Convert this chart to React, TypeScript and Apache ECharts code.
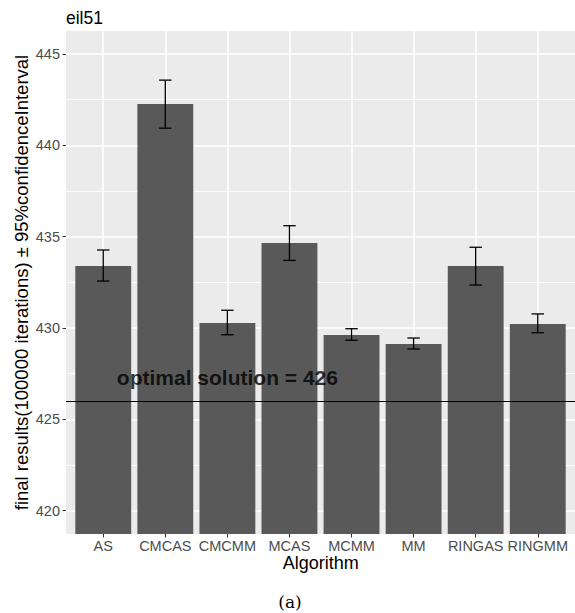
import React, { useEffect, useRef } from "react";
import * as echarts from "echarts";

// eil51 results per algorithm: mean and 95% confidence bounds
const algorithms = ["AS", "CMCAS", "CMCMM", "MCAS", "MCMM", "MM", "RINGAS", "RINGMM"];
const means = [433.39, 442.26, 430.27, 434.65, 429.62, 429.12, 433.39, 430.22];
const lowerCI = [432.57, 440.94, 429.63, 433.7, 429.33, 428.85, 432.35, 429.74];
const upperCI = [434.27, 443.57, 430.97, 435.6, 429.96, 429.45, 434.42, 430.77];
const yTicks = [420, 425, 430, 435, 440, 445];
const yMinorTicks = [422.5, 427.5, 432.5, 437.5, 442.5];
const optimal = 426;
const labelAnchor = { x: 3, y: 427.3 };

const SANS = "'Liberation Sans', Arial, Helvetica, sans-serif";
const Y_MIN = 418.72;
const Y_MAX = 446.26;

export default function App() {
  const ref = useRef<HTMLDivElement>(null);

  useEffect(() => {
    if (!ref.current) return;
    const chart = echarts.init(ref.current, null, { renderer: "svg" });

    const positions = algorithms.map((_, i) => i + 1);
    const barData = means.map((v, i) => [i + 1, v]);
    const errData = means.map((_, i) => [i + 1, lowerCI[i], upperCI[i]]);

    const option: any = {
      animation: false,
      backgroundColor: "#ffffff",
      textStyle: { fontFamily: SANS },
      grid: {
        left: 66,
        top: 31,
        width: 509.6,
        height: 503,
        show: true,
        backgroundColor: "#EBEBEB",
        borderWidth: 0,
        containLabel: false,
      },
      xAxis: {
        type: "value",
        min: 0.4,
        max: 8.6,
        splitNumber: 8,
        axisLine: { show: false },
        axisTick: {
          show: true,
          length: 3.5,
          lineStyle: { color: "#333333", width: 1 },
          customValues: positions,
        },
        axisLabel: {
          customValues: positions,
          color: "#4D4D4D",
          fontSize: 14.5,
          fontFamily: SANS,
          margin: 4,
          formatter: (v: number) => algorithms[Math.round(v) - 1] ?? "",
        },
        splitLine: {
          show: true,
          lineStyle: { color: "#FFFFFF", width: 1.6 },
        },
      },
      yAxis: [
        {
          // minor grid lines, drawn first so the major ones sit on top
          type: "value",
          min: Y_MIN,
          max: Y_MAX,
          axisLine: { show: false },
          axisLabel: { show: false, customValues: yMinorTicks },
          axisTick: { show: false, customValues: yMinorTicks },
          splitLine: {
            show: true,
            lineStyle: { color: "#FFFFFF", width: 0.8 },
          },
        },
        {
          type: "value",
          min: Y_MIN,
          max: Y_MAX,
          position: "left",
          axisLine: { show: false },
          axisTick: {
            show: true,
            length: 3.5,
            lineStyle: { color: "#333333", width: 1 },
            customValues: yTicks,
          },
          axisLabel: {
            customValues: yTicks,
            color: "#4D4D4D",
            fontSize: 14.5,
            fontFamily: SANS,
            margin: 6,
          },
          splitLine: {
            show: true,
            lineStyle: { color: "#FFFFFF", width: 1.6 },
          },
        },
      ],
      series: [
        {
          type: "bar",
          data: barData,
          yAxisIndex: 1,
          barWidth: "90%",
          itemStyle: { color: "#595959" },
          z: 2,
          markLine: {
            silent: true,
            symbol: ["none", "none"],
            label: { show: false },
            lineStyle: { color: "#000000", width: 1.1, type: "solid" },
            data: [{ yAxis: optimal }],
            z: 5,
          },
        },
        {
          type: "custom",
          data: errData,
          yAxisIndex: 1,
          encode: { x: 0, y: [1, 2] },
          z: 4,
          renderItem: (params: any, api: any) => {
            const x = api.value(0);
            const lo = api.coord([x, api.value(1)]);
            const hi = api.coord([x, api.value(2)]);
            const half = api.size([0.2, 0])[0] / 2;
            const style = { stroke: "#000000", lineWidth: 1.3, fill: "none" };
            return {
              type: "group",
              children: [
                { type: "line", shape: { x1: lo[0], y1: lo[1], x2: hi[0], y2: hi[1] }, style },
                { type: "line", shape: { x1: hi[0] - half, y1: hi[1], x2: hi[0] + half, y2: hi[1] }, style },
                { type: "line", shape: { x1: lo[0] - half, y1: lo[1], x2: lo[0] + half, y2: lo[1] }, style },
              ],
            };
          },
        },
        {
          type: "scatter",
          data: [[labelAnchor.x, labelAnchor.y]],
          yAxisIndex: 1,
          symbolSize: 0,
          silent: true,
          z: 6,
          label: {
            show: true,
            position: "inside",
            formatter: () => `optimal solution = ${optimal}`,
            color: "#000000",
            fontSize: 21,
            fontWeight: "bold",
            fontFamily: SANS,
          },
        },
      ],
      graphic: [
        {
          type: "text",
          x: 66,
          y: 17.5,
          style: {
            text: "eil51",
            font: `17.5px ${SANS}`,
            fill: "#000000",
            textAlign: "left",
            textVerticalAlign: "middle",
            align: "left",
            verticalAlign: "middle",
          },
        },
        {
          type: "text",
          x: 320.8,
          y: 562.8,
          style: {
            text: "Algorithm",
            font: `18px ${SANS}`,
            fill: "#000000",
            textAlign: "center",
            textVerticalAlign: "middle",
            align: "center",
            verticalAlign: "middle",
          },
        },
        {
          type: "text",
          x: 21.8,
          y: 282.5,
          rotation: Math.PI / 2,
          style: {
            text: "final results(100000 iterations) \u00b1 95%confidenceInterval",
            font: `18.5px ${SANS}`,
            fill: "#000000",
            textAlign: "center",
            textVerticalAlign: "middle",
            align: "center",
            verticalAlign: "middle",
          },
        },
        {
          type: "text",
          x: 290,
          y: 601.5,
          style: {
            text: "(a)",
            font: `17px 'DejaVu Serif', 'Liberation Serif', serif`,
            fill: "#000000",
            textAlign: "center",
            textVerticalAlign: "middle",
            align: "center",
            verticalAlign: "middle",
          },
        },
      ],
    };

    chart.setOption(option);
    return () => chart.dispose();
  }, []);

  return (
    <div
      ref={ref}
      style={{ position: "absolute", left: 0, top: 0, width: 575, height: 613 }}
    />
  );
}
